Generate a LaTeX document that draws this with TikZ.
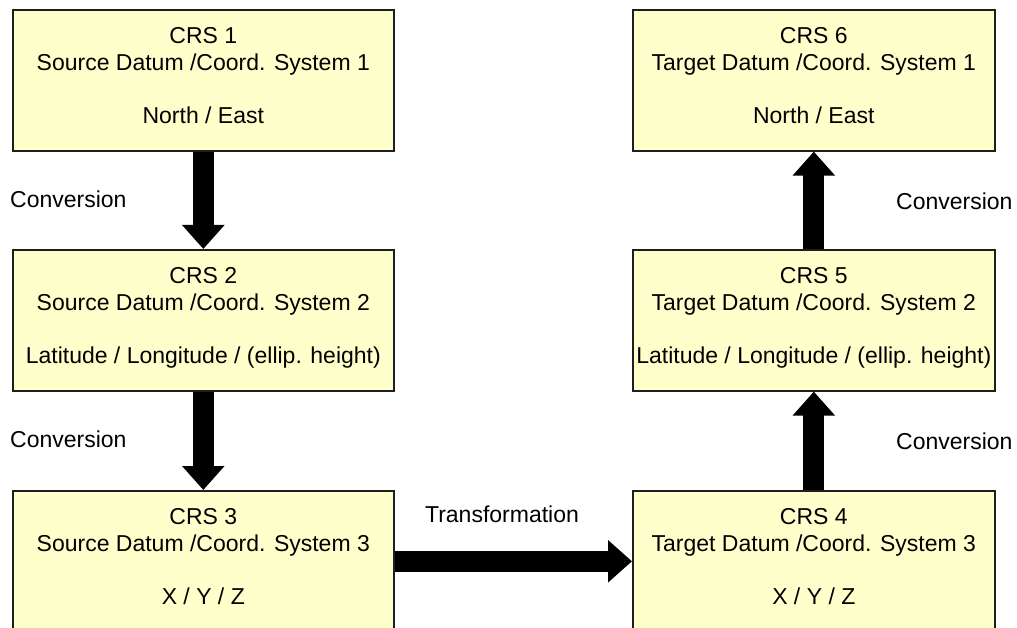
\documentclass[tikz,border=0pt]{standalone}
\usepackage{fontspec}
\setmainfont{Liberation Sans}
\usetikzlibrary{arrows.meta}
\definecolor{boxfill}{RGB}{255,255,204}
\definecolor{boxline}{RGB}{30,30,30}
\newcommand{\lowpad}{\rule[-10pt]{0pt}{10pt}}
\tikzset{
  crsbox/.style={draw=boxline, line width=1.6pt, fill=boxfill, rectangle,
    anchor=north west, minimum height=141pt, inner sep=0pt, align=center,
    font=\fontsize{23}{26.5}\selectfont},
  lbl/.style={font=\fontsize{23}{26.5}\selectfont, inner sep=0pt},
  bigarrow/.style={line width=21pt, draw=black, -{Triangle[length=24pt,width=41pt]}}
}
\begin{document}
\begin{tikzpicture}[x=1pt,y=-1pt]
\useasboundingbox (0,0) rectangle (1017,628);
\fill[white] (0,0) rectangle (1017,628);
\clip (0,0) rectangle (1017,628);
\node[crsbox, minimum width=381pt] (b1) at (12,9) {CRS 1\\Source Datum /Coord. System 1\\[26.5pt]North / East\lowpad};
\node[crsbox, minimum width=381pt] (b2) at (12,249) {CRS 2\\Source Datum /Coord. System 2\\[26.5pt]Latitude / Longitude / (ellip. height)\lowpad};
\node[crsbox, minimum width=381pt] (b3) at (12,490) {CRS 3\\Source Datum /Coord. System 3\\[26.5pt]X / Y / Z\lowpad};
\node[crsbox, minimum width=362pt] (b6) at (632,9) {CRS 6\\Target Datum /Coord. System 1\\[26.5pt]North / East\lowpad};
\node[crsbox, minimum width=362pt] (b5) at (632,249) {CRS 5\\Target Datum /Coord. System 2\\[26.5pt]Latitude / Longitude / (ellip. height)\lowpad};
\node[crsbox, minimum width=362pt] (b4) at (632,490) {CRS 4\\Target Datum /Coord. System 3\\[26.5pt]X / Y / Z\lowpad};
\draw[bigarrow] (b1.south) -- (b2.north);
\draw[bigarrow] (b2.south) -- (b3.north);
\draw[bigarrow] (b3.east) -- (b4.west);
\draw[bigarrow] (b4.north) -- (b5.south);
\draw[bigarrow] (b5.north) -- (b6.south);
\node[lbl, anchor=west] (l1) at (10,199) {Conversion};
\node[lbl, anchor=west] (l2) at (10,439) {Conversion};
\node[lbl] (l3) at (502,514) {Transformation};
\node[lbl, anchor=west] (l4) at (896,201) {Conversion};
\node[lbl, anchor=west] (l5) at (896,441) {Conversion};
\end{tikzpicture}
\end{document}
